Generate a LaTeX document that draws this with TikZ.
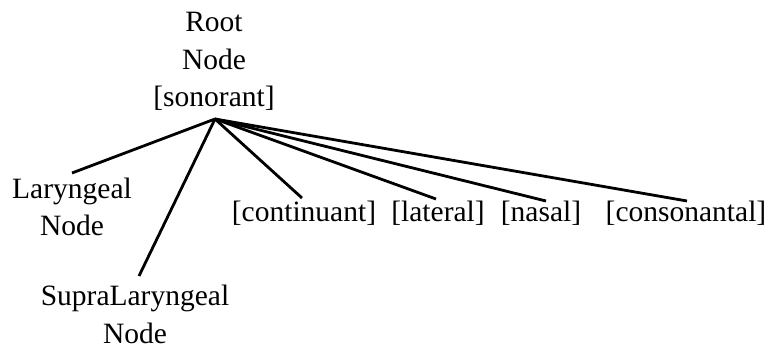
\documentclass[tikz,border=0pt]{standalone}
\usepackage{fontspec}
\setmainfont{Liberation Serif}

\begin{document}
\begin{tikzpicture}[x=1pt,y=-1pt,line width=2.8pt]
            \tikzstyle{feat}=[inner sep=0pt,anchor=base,align=center,font=\fontsize{29.5}{37.5}\selectfont]
            \tikzstyle{branch}=[draw]

            \useasboundingbox (0,0) rectangle (772,350);

            \node[feat] (root) at (214,107) {Root\\Node\\{}[sonorant]};
            \node[feat] (laryngeal) at (72,236) {Laryngeal\\Node};
            \node[feat] (supra) at (135,343) {SupraLaryngeal\\Node};
            \node[feat] (continuant) at (304,222) {[continuant]};
            \node[feat] (lateral) at (438,222) {[lateral]};
            \node[feat] (nasal) at (541,222) {[nasal]};
            \node[feat] (consonantal) at (686,222) {[consonantal]};

            \coordinate (apex) at (215,119);
            \coordinate (laryngeal-end) at (72,173);
            \coordinate (supra-end) at (139,276);
            \coordinate (continuant-end) at (302,198);
            \coordinate (lateral-end) at (436,199);
            \coordinate (nasal-end) at (546,201);
            \coordinate (consonantal-end) at (687,201);

            \foreach \leaf in {laryngeal,supra,continuant,lateral,nasal,consonantal}
                \draw[branch] (apex) -- (\leaf-end);
\end{tikzpicture}
\end{document}
